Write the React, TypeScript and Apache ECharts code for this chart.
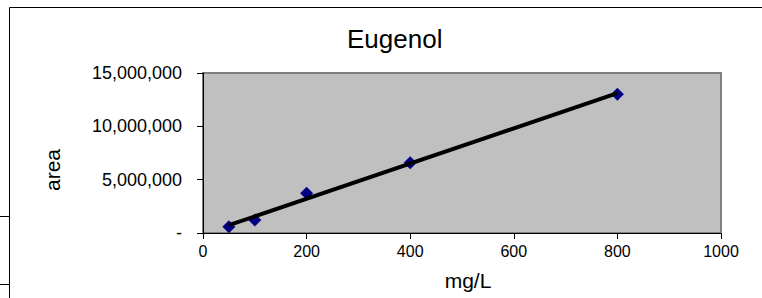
import React, { useEffect, useRef } from "react";
import * as echarts from "echarts";

const concentrations = [50, 100, 200, 400, 800];
const areas = [590000, 1220000, 3720000, 6590000, 13000000];
const yTicks = [0, 5000000, 10000000, 15000000];
const xTicks = [0, 200, 400, 600, 800, 1000];
const titleText = "Eugenol";
const xName = "mg/L";
const yName = "area";

function regression(xs: number[], ys: number[]) {
  const n = xs.length;
  const mx = xs.reduce((a, b) => a + b, 0) / n;
  const my = ys.reduce((a, b) => a + b, 0) / n;
  let sxx = 0;
  let sxy = 0;
  for (let i = 0; i < n; i++) {
    sxx += (xs[i] - mx) * (xs[i] - mx);
    sxy += (xs[i] - mx) * (ys[i] - my);
  }
  const slope = sxy / sxx;
  return { slope, intercept: my - slope * mx };
}

const FONT = "'Liberation Sans', Arial, sans-serif";

export default function App() {
  const ref = useRef<HTMLDivElement>(null);
  useEffect(() => {
    if (!ref.current) return;
    const chart = echarts.init(ref.current, undefined, { renderer: "svg" });
    const { slope, intercept } = regression(concentrations, areas);
    const xMin = Math.min(...concentrations);
    const xMax = Math.max(...concentrations);
    const trend = [
      [xMin, slope * xMin + intercept],
      [xMax, slope * xMax + intercept],
    ];
    chart.setOption({
      animation: false,
      backgroundColor: "#ffffff",
      textStyle: { fontFamily: FONT },
      title: {
        text: titleText,
        left: 347,
        top: 26,
        padding: 0,
        textStyle: { fontFamily: FONT, fontSize: 26, fontWeight: "normal", color: "#000" },
      },
      grid: {
        left: 203,
        top: 73,
        width: 518,
        height: 160,
        show: true,
        backgroundColor: "#C0C0C0",
        borderColor: "#808080",
        borderWidth: 2,
        containLabel: false,
      },
      xAxis: {
        type: "value",
        min: xTicks[0],
        max: xTicks[xTicks.length - 1],
        interval: xTicks[1] - xTicks[0],
        name: xName,
        nameLocation: "middle",
        nameGap: 37,
        nameTextStyle: { fontFamily: FONT, fontSize: 21, color: "#000", padding: [0, 0, 0, 12] },
        axisLine: { show: true, lineStyle: { color: "#000", width: 1 } },
        axisTick: { show: true, inside: false, length: 6, lineStyle: { color: "#000" } },
        axisLabel: {
          fontFamily: FONT,
          fontSize: 16,
          color: "#000",
          margin: 10,
          formatter: (v: number) => String(v),
        },
        splitLine: { show: false },
      },
      yAxis: {
        type: "value",
        min: yTicks[0],
        max: yTicks[yTicks.length - 1],
        interval: yTicks[1] - yTicks[0],
        name: yName,
        nameLocation: "middle",
        nameGap: 140,
        nameTextStyle: { fontFamily: FONT, fontSize: 21, color: "#000", padding: [0, 34, 0, 0] },
        axisLine: { show: true, lineStyle: { color: "#000", width: 1 } },
        axisTick: { show: true, inside: false, length: 6, lineStyle: { color: "#000" } },
        axisLabel: {
          fontFamily: FONT,
          fontSize: 18,
          color: "#000",
          margin: 21,
          formatter: (v: number) => (v === 0 ? "-" : v.toLocaleString("en-US")),
        },
        splitLine: { show: false },
      },
      graphic: [
        {
          type: "rect",
          shape: { x: 9.5, y: 7.5, width: 900, height: 400 },
          style: { fill: "none", stroke: "#000", lineWidth: 1 },
          silent: true,
          z: -10,
        },
        {
          type: "line",
          shape: { x1: 0, y1: 216.5, x2: 9, y2: 216.5 },
          style: { stroke: "#000", lineWidth: 1 },
          silent: true,
        },
        {
          type: "line",
          shape: { x1: 0, y1: 284.5, x2: 9, y2: 284.5 },
          style: { stroke: "#000", lineWidth: 1 },
          silent: true,
        },
      ],
      series: [
        {
          type: "scatter",
          data: concentrations.map((c, i) => [c, areas[i]]),
          symbol: "diamond",
          symbolSize: 13,
          itemStyle: { color: "#000080", opacity: 1 },
          z: 2,
        },
        {
          type: "line",
          data: trend,
          symbol: "none",
          lineStyle: { color: "#000", width: 4 },
          z: 3,
        },
      ],
    });
    return () => chart.dispose();
  }, []);
  return (
    <div
      ref={ref}
      style={{ position: "absolute", left: 0, top: 0, width: 762, height: 298 }}
    />
  );
}
